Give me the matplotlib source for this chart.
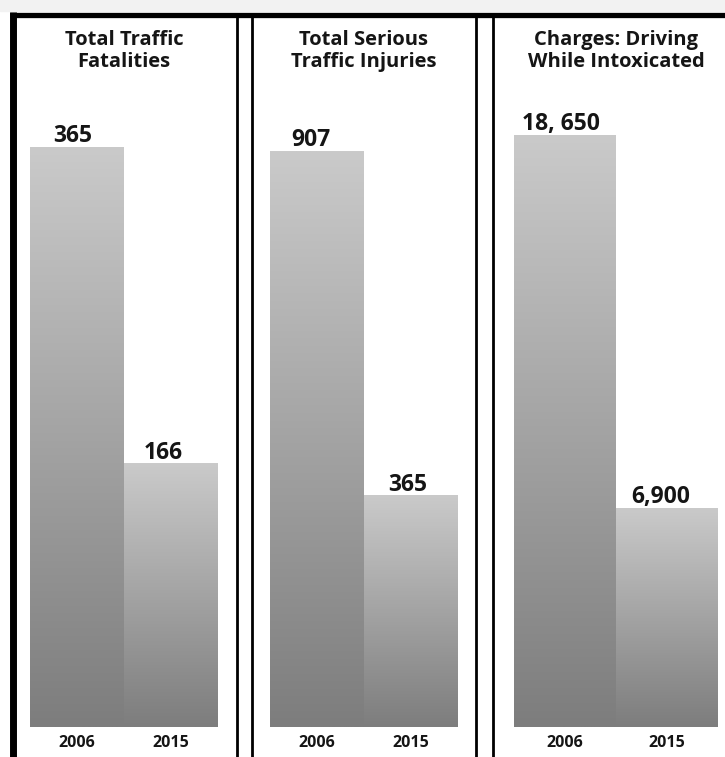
import numpy as np
import matplotlib.pyplot as plt
from matplotlib.lines import Line2D

# chart data
titles = ['Total Traffic\nFatalities', 'Total Serious\nTraffic Injuries',
          'Charges: Driving\nWhile Intoxicated']
years = ['2006', '2015']
values = [[365, 166], [907, 365], [18650, 6900]]
value_labels = [['365', '166'], ['907', '365'], ['18, 650', '6,900']]

W, H = 725, 757
fig = plt.figure(figsize=(W / 100, H / 100), dpi=100)
fig.patch.set_facecolor('white')
plt.rcParams['font.family'] = ['Open Sans', 'DejaVu Sans']

def fx(px):
    return px / W

def fy(py):
    return 1 - py / H

# pixel layout of each panel: bar left, bar right, top pixel of tallest bar
panel_x = [(30, 218), (270, 458), (514, 718)]
top_px = [147, 151, 135]
bottom_px = 727
axes_top = 20
label_dx = [[23, 20], [21, 24], [8, 15]]

grad = np.linspace(0, 1, 256).reshape(-1, 1)
cmap = plt.matplotlib.colors.LinearSegmentedColormap.from_list(
    'bar', ['#7d7d7d', '#cacaca'])

for i in range(3):
    x0, x1 = panel_x[i]
    ax = fig.add_axes([fx(x0), fy(bottom_px), fx(x1 - x0),
                       (bottom_px - axes_top) / H])
    # scale so tallest bar hits its pixel top
    ymax = values[i][0] * (bottom_px - axes_top) / (bottom_px - top_px[i])
    ax.set_xlim(-0.5, 1.5)
    ax.set_ylim(0, ymax)
    bars = ax.bar([0, 1], values[i], width=1.0, color='none',
                  edgecolor='none')
    for j, b in enumerate(bars):
        bx, bw, bh = b.get_x(), b.get_width(), b.get_height()
        im = ax.imshow(grad, cmap=cmap, origin='lower', aspect='auto',
                       extent=(bx, bx + bw, 0, bh), zorder=2)
        im.set_clip_path(b)
        ax.annotate(value_labels[i][j], (bx, bh),
                    xytext=(label_dx[i][j] * 0.72, -1),
                    textcoords='offset points', ha='left', va='bottom',
                    fontsize=16.5, fontweight='bold', color='#151515')
    ax.set_xlim(-0.5, 1.5)
    ax.set_ylim(0, ymax)
    ax.set_xticks([0, 1])
    ax.set_xticklabels(years, fontsize=11.5, fontweight='bold',
                       color='#151515')
    ax.tick_params(axis='x', length=0, pad=6)
    ax.set_yticks([])
    for s in ax.spines.values():
        s.set_visible(False)
    ax.patch.set_alpha(0)

    # panel title
    fig.text(fx((x0 + x1) / 2), fy(51), titles[i], ha='center',
             va='center', fontsize=14.5, fontweight='bold',
             color='#151515', linespacing=1.15)

# frame lines
fig.patches.append(plt.Rectangle((0, fy(11)), 1, 1 - fy(11),
                                 transform=fig.transFigure,
                                 color='#f2f2f2', zorder=0))
fig.add_artist(Line2D([fx(10), 1], [fy(14.5), fy(14.5)], lw=3.8,
                      color='black', solid_capstyle='butt'))
fig.add_artist(Line2D([fx(13.5), fx(13.5)], [fy(12), 0], lw=5,
                      color='black', solid_capstyle='butt'))
for xp in [237, 252, 476, 493]:
    fig.add_artist(Line2D([fx(xp), fx(xp)], [fy(14), 0], lw=2,
                          color='black', solid_capstyle='butt'))

fig.savefig('out.png', dpi=100)
